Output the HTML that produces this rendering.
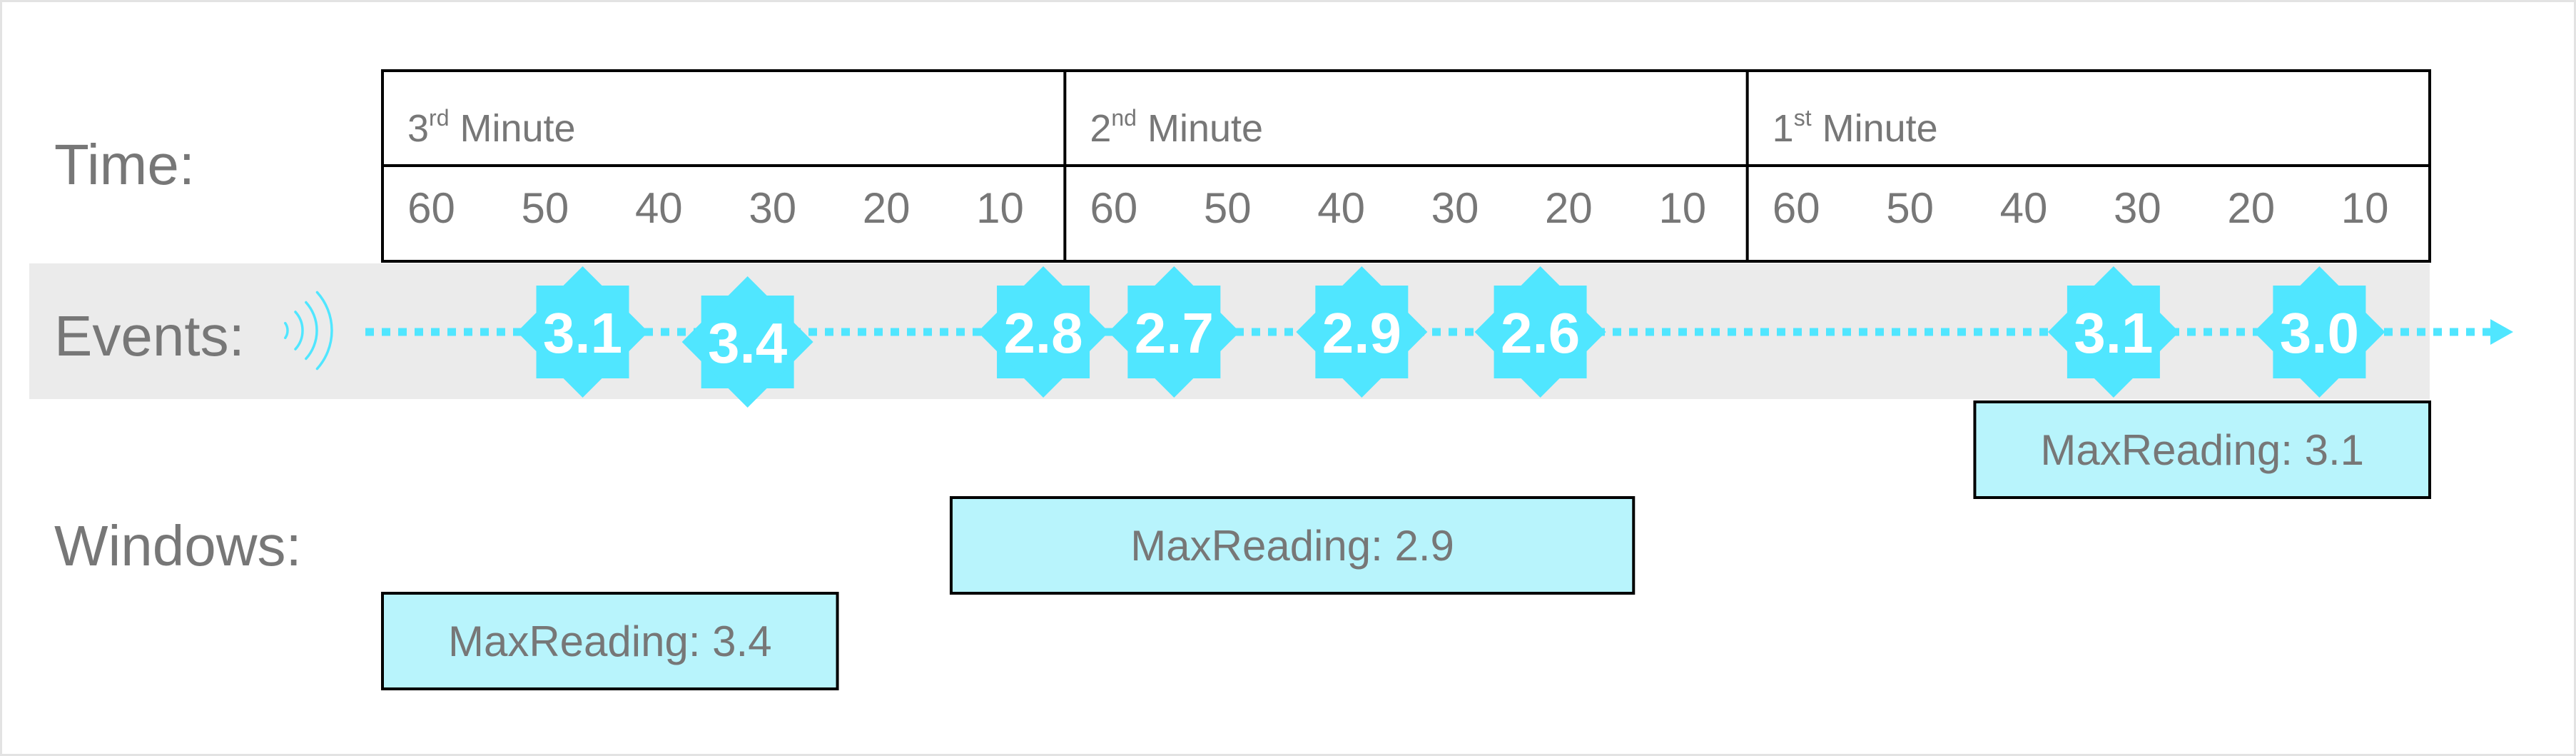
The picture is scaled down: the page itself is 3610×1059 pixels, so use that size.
<!DOCTYPE html>
<html><head><meta charset="utf-8"><style>
html,body{margin:0;padding:0;background:#fff;}
svg{display:block;font-family:"Liberation Sans",sans-serif;}
</style></head><body>
<svg id="chart" width="3610" height="1059" viewBox="0 0 3610 1059" xmlns="http://www.w3.org/2000/svg">
<rect x="1.5" y="1.5" width="3607" height="1056" fill="#fff" stroke="#e3e3e3" stroke-width="3"/>
<rect x="41" y="369" width="3364" height="190" fill="#ebebeb"/>
<text x="76" y="258" font-size="80" fill="#777">Time:</text>
<text x="76" y="498" font-size="80" fill="#777">Events:</text>
<text x="76" y="792" font-size="80" fill="#777">Windows:</text>
<g id="signal" fill="none" stroke="#50e6ff" stroke-width="3.5" stroke-linecap="round"></g>
<g id="axis"></g>
<g id="stream"></g>
<g id="wins"></g>
</svg>
<script>
const minuteLabels = ["3rd", "2nd", "1st"];
const tickLabels = [60, 50, 40, 30, 20, 10];
const eventTimes = [17.6, 32.1, 58.1, 69.6, 86.1, 101.8, 152.2, 170.3];
const eventValues = ["3.1", "3.4", "2.8", "2.7", "2.9", "2.6", "3.1", "3.0"];
const eventLane = [0, 1, 0, 0, 0, 0, 0, 0];
const windowStarts = [0, 50, 140];
const windowEnds = [40, 110, 180];
const windowValues = ["3.4", "2.9", "3.1"];
const windowRows = [2, 1, 0];

const NS = "http://www.w3.org/2000/svg";
const X0 = 536, X1 = 3405, TOTAL = 180;
const xs = s => X0 + s * (X1 - X0) / TOTAL;
function mk(tag, attrs, parent, txt) {
  const e = document.createElementNS(NS, tag);
  for (const k in attrs) e.setAttribute(k, attrs[k]);
  if (txt !== undefined) e.textContent = txt;
  parent.appendChild(e);
  return e;
}

const sig = document.getElementById('signal');
[18, 39, 59, 80].forEach((r, i) => {
  const cx = 385, cy = 463, a = (i === 0 ? 35 : 42) * Math.PI / 180;
  const p = mk('path', {d: `M${cx + r*Math.cos(a)} ${cy - r*Math.sin(a)} A${r} ${r} 0 0 1 ${cx + r*Math.cos(a)} ${cy + r*Math.sin(a)}`}, sig);
  
  
});

const ax = document.getElementById('axis');
const tbl = mk('rect', {x: X0, y: 99, width: X1 - X0, height: 267, fill: '#fff', stroke: '#000', 'stroke-width': 4}, ax);


const mid = mk('line', {x1: X0, x2: X1, y1: 232, y2: 232, stroke: '#000', 'stroke-width': 4}, ax);


minuteLabels.forEach((m, i) => {
  const x = xs(i * 60);
  if (i > 0) {
    const l = mk('line', {x1: x, x2: x, y1: 99, y2: 366, stroke: '#000', 'stroke-width': 4}, ax);
    
    
  }
  const t = mk('text', {x: x + 35, y: 198, 'font-size': 54, fill: '#777'}, ax);
  
  
  mk('tspan', {}, t, m[0]);
  mk('tspan', {'font-size': 32, dy: -22}, t, m.slice(1));
  mk('tspan', {dy: 22}, t, ' Minute');
  tickLabels.forEach((v, j) => {
    const tx = mk('text', {x: xs(i * 60 + (60 - v) + 4.3), y: 312, 'font-size': 60, fill: '#777', 'text-anchor': 'middle'}, ax, String(v));
    
    
  });
});

const st = document.getElementById('stream');
const line = mk('line', {x1: 512, x2: 3492, y1: 465, y2: 465, stroke: '#50e6ff', 'stroke-width': 11, 'stroke-dasharray': '12 11'}, st);


const arr = mk('polygon', {points: '3490,447 3522,465 3490,483', fill: '#50e6ff'}, st);


eventTimes.forEach((t, i) => {
  const cx = xs(t), cy = 465 + eventLane[i] * 14;
  const g = mk('g', {}, st);
  
  
  mk('rect', {x: cx - 65, y: cy - 65, width: 130, height: 130, fill: '#50e6ff'}, g);
  mk('polygon', {points: `${cx},${cy-92} ${cx+92},${cy} ${cx},${cy+92} ${cx-92},${cy}`, fill: '#50e6ff'}, g);
  mk('text', {x: cx, y: cy + 29, 'font-size': 80, 'font-weight': 'bold', fill: '#fff', 'text-anchor': 'middle'}, g, eventValues[i]);
});

const wg = document.getElementById('wins');
windowStarts.forEach((s, i) => {
  const x = xs(s), w = xs(windowEnds[i]) - x, y = 563 + windowRows[i] * 134;
  const g = mk('g', {}, wg);
  
  
  mk('rect', {x: x, y: y, width: w, height: 134, fill: '#b8f4fc', stroke: '#000', 'stroke-width': 4}, g);
  mk('text', {x: x + w / 2, y: y + 88, 'font-size': 60, fill: '#777', 'text-anchor': 'middle'}, g, 'MaxReading: ' + windowValues[i]);
});
</script>
</body></html>
